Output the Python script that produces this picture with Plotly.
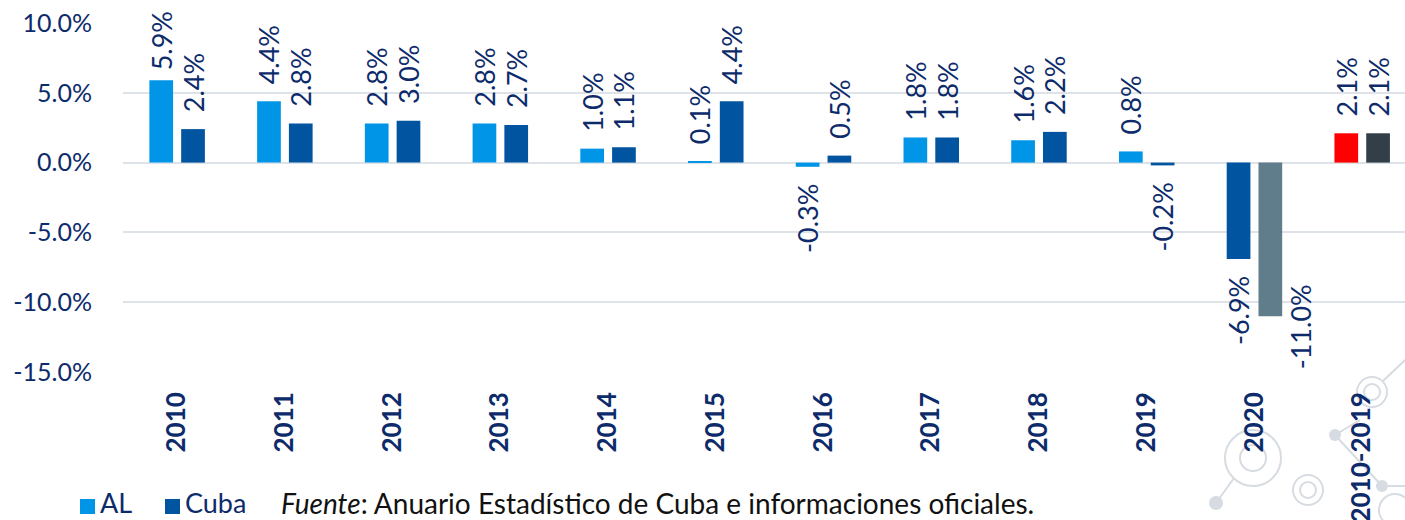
import plotly.graph_objects as go

categories = ["2010", "2011", "2012", "2013", "2014", "2015", "2016", "2017",
              "2018", "2019", "2020", "2010-2019"]
al_values = [5.9, 4.4, 2.8, 2.8, 1.0, 0.1, -0.3, 1.8, 1.6, 0.8, -6.9, 2.1]
cuba_values = [2.4, 2.8, 3.0, 2.7, 1.1, 4.4, 0.5, 1.8, 2.2, -0.2, -11.0, 2.1]
series_names = ["AL", "Cuba"]
y_ticks = [10, 5, 0, -5, -10, -15]
source_text = "<i>Fuente</i>: Anuario Estadístico de Cuba e informaciones oficiales."

C_AL = "#0095E6"
C_CUBA = "#0054A0"
C_GREY = "#607D8B"
C_RED = "#FF0000"
C_DARK = "#333F48"
NAVY = "#0D2B6B"
FONT = "Source Sans Pro, Lato, sans-serif"

ML, MT, PW, PH = 123, 23, 1282, 349

def px(x):
    return (x - ML) / PW

def py(y):
    return (MT + PH - y) / PH

PAD = "\u00a0\u00a0"

def label(v):
    s = f"{v:.1f}%"
    return PAD + s if v >= 0 else s + PAD

al_colors = [C_AL] * 10 + [C_CUBA, C_RED]
cuba_colors = [C_CUBA] * 10 + [C_GREY, C_DARK]

al_text = [label(v) for v in al_values]
cuba_text = [label(v) for v in cuba_values]
# the tallest label sits closer to its bar in the original
al_text[0] = "\u00a0" + f"{al_values[0]:.1f}%"
# the 2020 Cuba label is drawn beside its bar (as in the original)
shifted_idx = categories.index("2020")
cuba_text[shifted_idx] = ""

fig = go.Figure()
for vals, cols, txt, off, name in [(al_values, al_colors, al_text, -0.255, series_names[0]),
                                   (cuba_values, cuba_colors, cuba_text, 0.04, series_names[1])]:
    fig.add_trace(go.Bar(
        x=categories, y=vals, name=name, showlegend=False,
        marker=dict(color=cols, line=dict(width=0)),
        width=0.22, offset=off,
        text=txt, texttemplate="%{text}", textposition="outside", textangle=-90,
        textfont=dict(family=FONT, size=27, color=NAVY),
        constraintext="none", cliponaxis=False, hoverinfo="skip",
    ))

annotations = [dict(x=shifted_idx, y=cuba_values[shifted_idx],
                    xref="x", yref="y", text=f"{cuba_values[shifted_idx]:.1f}%",
                    showarrow=False, textangle=-90, xshift=46, yshift=-11,
                    xanchor="center", yanchor="middle",
                    font=dict(family=FONT, size=27, color=NAVY))]

# decorative network watermark (bottom right)
deco_col = "#D6DCE1"
circles = [(1372, 392, 15, 8), (1253, 458, 28, 13), (1308, 490, 15, 8), (1395, 510, 16, 0)]
shapes = []
for cx, cy, r1, r2 in circles:
    for r in (r1, r2):
        if r:
            shapes.append(dict(type="circle", xref="paper", yref="paper", layer="below",
                               x0=px(cx - r), x1=px(cx + r), y0=py(cy + r), y1=py(cy - r),
                               line=dict(color=deco_col, width=2)))
dots = [(1335, 435, 6), (1216, 503, 7), (1382, 486, 6)]
for cx, cy, r in dots:
    shapes.append(dict(type="circle", xref="paper", yref="paper", layer="below",
                       x0=px(cx - r), x1=px(cx + r), y0=py(cy + r), y1=py(cy - r),
                       fillcolor=deco_col, line=dict(width=0)))
lines = [(1383, 381, 1405, 360), (1335, 435, 1382, 486), (1216, 503, 1234, 478),
         (1382, 486, 1405, 486), (1335, 435, 1360, 420)]
for x0, y0, x1, y1 in lines:
    shapes.append(dict(type="line", xref="paper", yref="paper", layer="below",
                       x0=px(x0), x1=px(x1), y0=py(y0), y1=py(y1),
                       line=dict(color=deco_col, width=2)))

# manual legend
legend_cols = [C_AL, C_CUBA]
legend_x = [80, 165]
for name, col, lx in zip(series_names, legend_cols, legend_x):
    shapes.append(dict(type="rect", xref="paper", yref="paper",
                       x0=px(lx), x1=px(lx + 15), y0=py(514), y1=py(499),
                       fillcolor=col, line=dict(width=0)))
    annotations.append(dict(xref="paper", yref="paper", x=px(lx + 18),
                            y=py(503), text=name, showarrow=False,
                            xanchor="left", yanchor="middle",
                            font=dict(family=FONT, size=27, color=NAVY)))
annotations.append(dict(xref="paper", yref="paper", x=px(279),
                        y=py(503), text=source_text, showarrow=False,
                        xanchor="left", yanchor="middle",
                        font=dict(family=FONT, size=28, color="#111111")))

fig.update_layout(
    width=1405, height=520,
    margin=dict(l=ML, r=1405 - ML - PW, t=MT, b=520 - MT - PH, autoexpand=False),
    paper_bgcolor="white", plot_bgcolor="white",
    barmode="group", showlegend=False,
    font=dict(family=FONT, color=NAVY),
    shapes=shapes, annotations=annotations,
    xaxis=dict(range=[-0.5, 11.4], tickangle=-90, showgrid=False, showline=False,
               ticks="", ticklabelstandoff=14, automargin=False, fixedrange=True,
               tickfont=dict(family=FONT, size=26, color=NAVY, weight="bold")),
    yaxis=dict(range=[-15, 10], tickvals=y_ticks,
               ticktext=[f"{v:.1f}%" for v in y_ticks],
               showgrid=True, gridcolor="#DDE3E8", gridwidth=2, automargin=False,
               zeroline=False, showline=False, ticks="", ticklabelstandoff=30,
               fixedrange=True,
               tickfont=dict(family=FONT, size=25, color=NAVY)),
)

fig.write_html("out.html", config={"displayModeBar": False},
               post_script="document.body.style.margin='0';document.body.style.overflow='hidden';")
